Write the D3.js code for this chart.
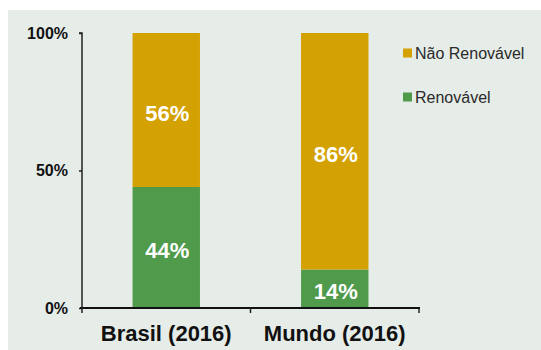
<!DOCTYPE html>
<html>
<head>
<meta charset="utf-8">
<script src="https://cdn.jsdelivr.net/npm/d3@7"></script>
<style>
  html, body { margin: 0; padding: 0; background: #ffffff; }
  svg { display: block; }
</style>
</head>
<body>
<svg id="chart" width="541" height="350"></svg>
<script>
// Energy matrix shares, 2016
const categories = ["Brasil (2016)", "Mundo (2016)"];
const renovavel = [44, 14];
const naoRenovavel = [56, 86];
const yTicks = [0, 50, 100];
const seriesNames = ["Não Renovável", "Renovável"];
const seriesColors = ["#d4a102", "#4f9a4b"];

const svg = d3.select("#chart");
const W = 541, H = 350;

// panel background
svg.append("rect")
  .attr("x", 8).attr("y", 10)
  .attr("width", W - 8).attr("height", H - 10)
  .attr("fill", "#e6ece8");

const x = d3.scaleBand().domain(categories).range([82, 419]).padding(0);
const y = d3.scaleLinear().domain([0, 100]).range([308, 33]);
const barW = x.bandwidth() * 0.4;

const rows = categories.map((c, i) => ({
  cat: c, "Renovável": renovavel[i], "Não Renovável": naoRenovavel[i]
}));
const stack = d3.stack().keys(["Renovável", "Não Renovável"]);
const layers = stack(rows);
const colorOf = d3.scaleOrdinal().domain(seriesNames).range(seriesColors);

const g = svg.append("g");
layers.forEach(layer => {
  g.selectAll(null)
    .data(layer)
    .join("rect")
    .attr("x", d => x(d.data.cat) + x.bandwidth() / 2 - barW / 2)
    .attr("width", barW)
    .attr("y", d => y(d[1]))
    .attr("height", d => y(d[0]) - y(d[1]))
    .attr("fill", colorOf(layer.key));

  g.selectAll(null)
    .data(layer)
    .join("text")
    .attr("x", d => x(d.data.cat) + x.bandwidth() / 2 + 1)
    .attr("y", d => (y(d[0]) + y(d[1])) / 2 + 3)
    .attr("dy", "0.35em")
    .attr("text-anchor", "middle")
    .attr("fill", "#ffffff")
    .attr("font-family", "Liberation Sans, Arial, sans-serif")
    .attr("font-weight", "bold")
    .attr("font-size", 22)
    .text(d => (d[1] - d[0]) + "%");
});

// y axis
const yAxis = svg.append("g")
  .attr("transform", "translate(82,0)")
  .call(d3.axisLeft(y).tickValues(yTicks).tickSize(3).tickPadding(11)
    .tickFormat(d => d + "%"));
yAxis.select(".domain").attr("stroke", "#222").attr("stroke-width", 1.5)
  .attr("d", `M-3,${y(100)}H0V${y(0)}`);
yAxis.selectAll(".tick line").attr("stroke", "#222").attr("stroke-width", 1.5);
yAxis.selectAll(".tick text")
  .attr("fill", "#111")
  .attr("font-family", "Liberation Sans, Arial, sans-serif")
  .attr("font-weight", "bold")
  .attr("font-size", 16);

// x axis: baseline with ticks at the category boundaries
const xAxis = svg.append("g").attr("transform", `translate(0,${y(0)})`);
xAxis.append("line")
  .attr("x1", 80).attr("x2", 420)
  .attr("stroke", "#111").attr("stroke-width", 2);
const bounds = [x.range()[0], ...categories.slice(1).map(c => x(c)), x.range()[1]];
xAxis.selectAll(".bt")
  .data(bounds)
  .join("line")
  .attr("x1", d => d).attr("x2", d => d)
  .attr("y1", 0).attr("y2", 5)
  .attr("stroke", "#222").attr("stroke-width", 1.5);
xAxis.selectAll(".cl")
  .data(categories)
  .join("text")
  .attr("x", d => x(d) + x.bandwidth() / 2)
  .attr("y", 33)
  .attr("text-anchor", "middle")
  .attr("fill", "#111")
  .attr("font-family", "Liberation Sans, Arial, sans-serif")
  .attr("font-weight", "bold")
  .attr("font-size", 22)
  .text(d => d);

// legend
const legend = svg.append("g").attr("transform", "translate(403,0)");
const legendY = [53, 97];
seriesNames.forEach((name, i) => {
  legend.append("rect")
    .attr("x", 0).attr("y", legendY[i] - 4.5)
    .attr("width", 9).attr("height", 9)
    .attr("fill", seriesColors[i]);
  legend.append("text")
    .attr("x", 12).attr("y", legendY[i])
    .attr("dy", "0.35em")
    .attr("fill", "#2a2a2a")
    .attr("font-family", "Liberation Sans, Arial, sans-serif")
    .attr("font-size", 16)
    .text(name);
});
</script>
</body>
</html>
